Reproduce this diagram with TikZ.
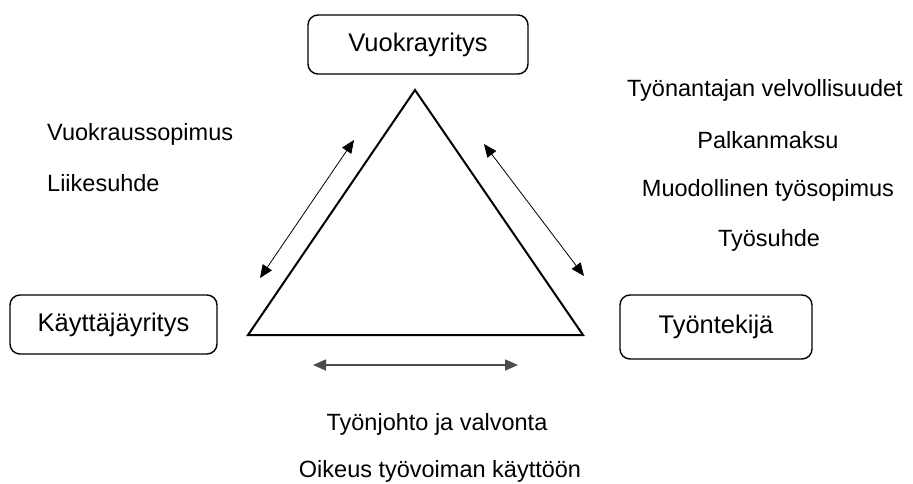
\documentclass[tikz,border=0pt]{standalone}
\usepackage{fontspec}
\setmainfont{Liberation Sans}
\usetikzlibrary{arrows.meta}
\tikzset{
  partybox/.style={draw, rounded corners=10pt, line width=1.4pt, align=center,
    font=\fontsize{25.5}{30}\selectfont, minimum height=59pt},
  relarrow/.style={{Triangle[length=13pt,width=11pt]}-{Triangle[length=13pt,width=11pt]}, line width=0.8pt},
  reltext/.style={font=\fontsize{23.5}{28}\selectfont, inner sep=0pt},
}

\begin{document}
\begin{tikzpicture}[x=1pt, y=-1pt]
  \useasboundingbox (0,0) rectangle (913,484);
  % osapuolet
  \node[partybox, minimum width=220pt] (vuokra) at (418,44.5) {Vuokrayritys};
  \node[partybox, minimum width=207pt] (kayttaja) at (113.5,324.5) {Käyttäjäyritys};
  \node[partybox, minimum width=192pt, minimum height=64pt] (tyontekija) at (716,327) {Työntekijä};
  % kolmio
  \coordinate (ylakulma) at (415,90);
  \coordinate (vasenkulma) at (248,335);
  \coordinate (oikeakulma) at (583,335);
  \draw[line width=2pt, line join=miter] (ylakulma) -- (vasenkulma) -- (oikeakulma) -- cycle;
  % nuolet
  \coordinate (v1) at (354,140);
  \coordinate (v2) at (260,278);
  \coordinate (o1) at (484,144);
  \coordinate (o2) at (584,276);
  \coordinate (a1) at (313,365);
  \coordinate (a2) at (518,365);
  \draw[relarrow] (v1) -- (v2);
  \draw[relarrow] (o1) -- (o2);
  \draw[relarrow, line width=1.6pt, draw=black!70] (a1) -- (a2);
  % suhteet
  \node[reltext, anchor=west] (sopimus) at (47,134) {Vuokraussopimus};
  \node[reltext, anchor=west] (liike) at (47,183) {Liikesuhde};
  \node[reltext] (velvoll) at (765,90) {Työnantajan velvollisuudet};
  \node[reltext] (palkka) at (768,140) {Palkanmaksu};
  \node[reltext] (tyosop) at (768,190) {Muodollinen työsopimus};
  \node[reltext] (tyosuhde) at (769,240) {Työsuhde};
  \node[reltext] (johto) at (437,424) {Työnjohto ja valvonta};
  \node[reltext] (oikeus) at (440,471) {Oikeus työvoiman käyttöön};
\end{tikzpicture}
\end{document}
